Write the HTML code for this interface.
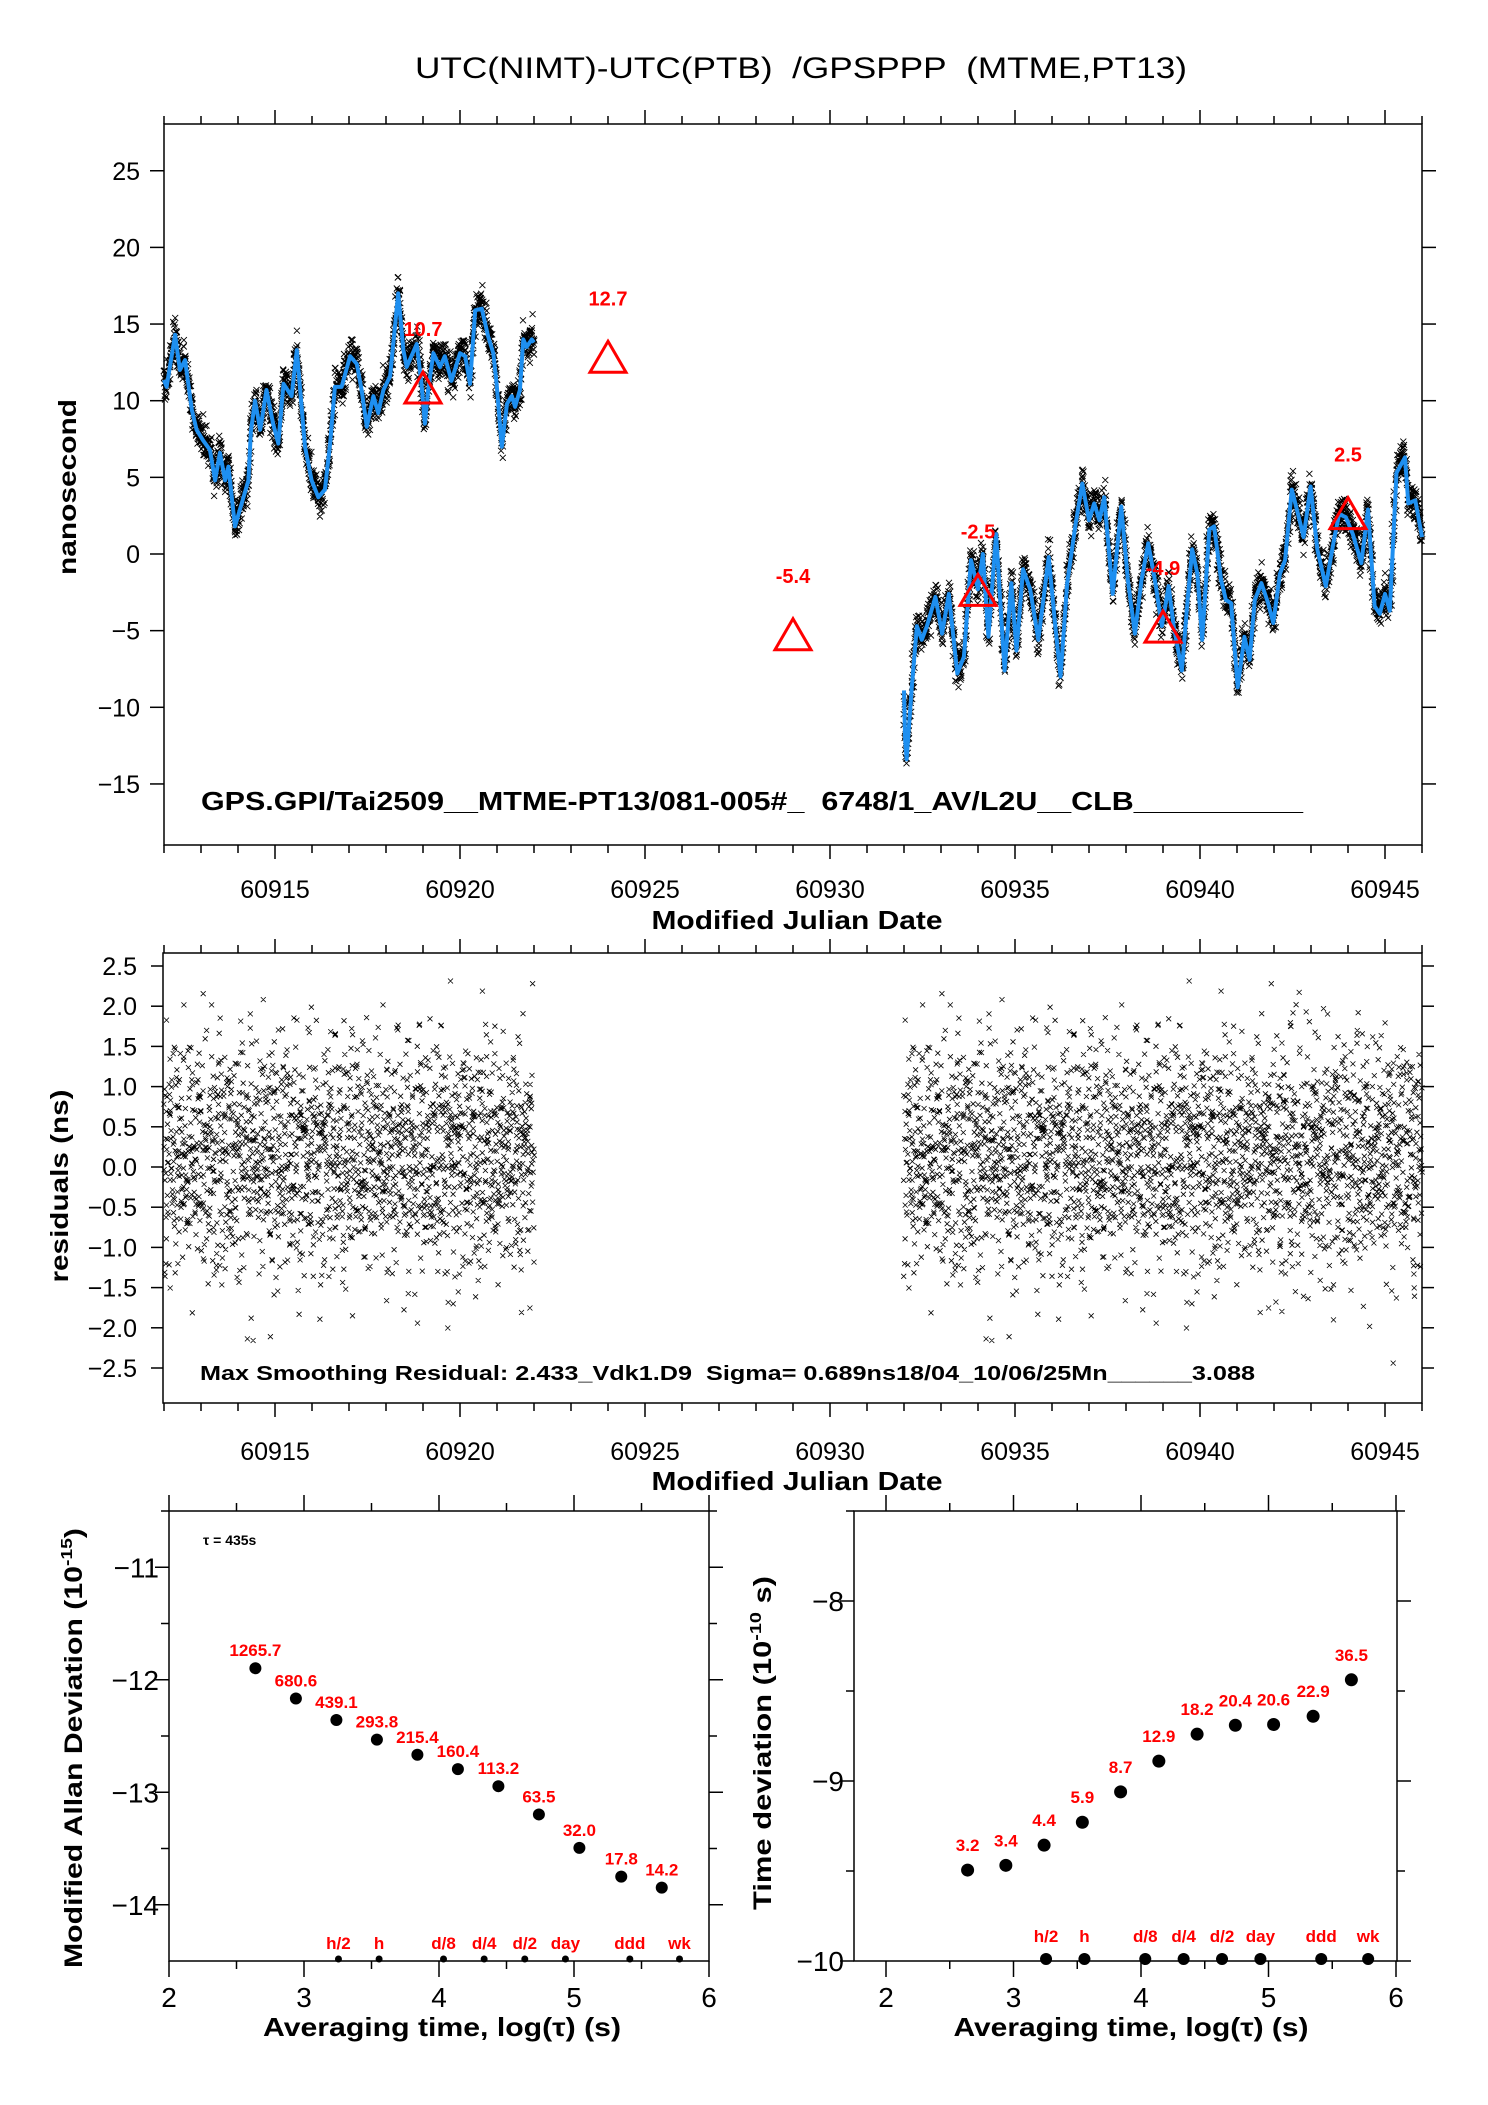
<!DOCTYPE html>
<html><head><meta charset="utf-8">
<style>
html,body{margin:0;padding:0;background:#fff;}
svg{display:block;font-family:"Liberation Sans",Arial,sans-serif;}
text{white-space:pre;}
</style></head>
<body>
<svg id="fig" width="1488" height="2105" viewBox="0 0 1488 2105" xmlns="http://www.w3.org/2000/svg">
<rect x="0" y="0" width="1488" height="2105" fill="#fff"/>
<text x="801" y="78" font-size="30" text-anchor="middle" textLength="772" lengthAdjust="spacingAndGlyphs">UTC(NIMT)-UTC(PTB)&#160; /GPSPPP&#160; (MTME,PT13)</text>

<g id="top"></g>
<g id="mid"></g>
<g id="bl"></g>
<g id="br"></g>

<text transform="translate(76,487) rotate(-90)" font-size="25" font-weight="bold" text-anchor="middle" textLength="176" lengthAdjust="spacingAndGlyphs">nanosecond</text>
<text x="797" y="929" font-size="26" font-weight="bold" text-anchor="middle" textLength="291" lengthAdjust="spacingAndGlyphs">Modified Julian Date</text>
<text x="201" y="810" font-size="26" font-weight="bold" textLength="1102" lengthAdjust="spacingAndGlyphs">GPS.GPI/Tai2509__MTME-PT13/081-005#_&#160; 6748/1_AV/L2U__CLB__________</text>

<text transform="translate(68,1186) rotate(-90)" font-size="25" font-weight="bold" text-anchor="middle" textLength="193" lengthAdjust="spacingAndGlyphs">residuals (ns)</text>
<text x="797" y="1490" font-size="26" font-weight="bold" text-anchor="middle" textLength="291" lengthAdjust="spacingAndGlyphs">Modified Julian Date</text>
<text x="200" y="1380" font-size="20" font-weight="bold" textLength="1055" lengthAdjust="spacingAndGlyphs">Max Smoothing Residual: 2.433_Vdk1.D9&#160; Sigma= 0.689ns18/04_10/06/25Mn______3.088</text>

<text transform="translate(82,1748) rotate(-90)" font-size="25" font-weight="bold" text-anchor="middle" textLength="440" lengthAdjust="spacingAndGlyphs">Modified Allan Deviation (10<tspan font-size="16" dy="-10">-15</tspan><tspan dy="10">)</tspan></text>
<text x="442" y="2036" font-size="26" font-weight="bold" text-anchor="middle" textLength="358" lengthAdjust="spacingAndGlyphs">Averaging time, log(τ) (s)</text>
<text x="203" y="1545" font-size="14" font-weight="bold">τ = 435s</text>

<text transform="translate(771,1743) rotate(-90)" font-size="25" font-weight="bold" text-anchor="middle" textLength="334" lengthAdjust="spacingAndGlyphs">Time deviation (10<tspan font-size="16" dy="-10">-10</tspan><tspan dy="10"> s)</tspan></text>
<text x="1131" y="2036" font-size="26" font-weight="bold" text-anchor="middle" textLength="355" lengthAdjust="spacingAndGlyphs">Averaging time, log(τ) (s)</text>
</svg>

<script>
// ---------- data ----------
const smoothDays1 = [0,0.07,0.3,0.43,0.57,0.75,0.88,1.06,1.24,1.38,1.51,1.65,1.74,1.92,2.1,2.28,2.35,2.46,2.6,2.77,2.95,3.09,3.23,3.45,3.59,3.72,3.81,3.99,4.17,4.35,4.49,4.62,4.8,5.03,5.21,5.34,5.48,5.66,5.79,5.93,6.11,6.33,6.47,6.56,6.83,6.96,7.05,7.14,7.28,7.46,7.59,7.77,8.0,8.14,8.27,8.41,8.59,8.76,8.9,8.99,9.13,9.27,9.4,9.49,9.62,9.71,9.8,9.94,10.0];
const smoothVals1 = [11.35,10.9,14.3,12.0,12.65,9.4,8.1,7.4,6.8,4.8,6.6,4.8,5.7,1.8,3.3,4.8,8.0,10.0,8.1,10.7,8.5,7.2,11.1,10.3,13.3,9.6,7.0,4.8,3.7,4.2,7.2,10.9,10.9,12.9,12.4,10.7,8.3,10.3,9.2,10.7,11.6,17.0,13.3,12.2,13.7,11.1,8.5,10.7,13.1,12.2,12.9,11.3,13.1,12.9,11.1,15.9,16.0,14.2,13.1,11.1,7.0,9.8,10.3,9.6,10.7,14.0,13.5,14.0,13.8];
const smoothDays2 = [20.0,20.03,20.07,20.21,20.35,20.48,20.62,20.85,21.03,21.21,21.44,21.62,21.81,22.0,22.13,22.28,22.49,22.72,22.9,23.04,23.22,23.41,23.63,23.91,24.09,24.23,24.41,24.64,24.82,25.0,25.14,25.28,25.41,25.64,25.87,26.05,26.24,26.42,26.6,26.78,26.97,27.15,27.29,27.51,27.65,27.79,27.93,28.06,28.25,28.38,28.57,28.7,28.84,29.02,29.2,29.34,29.48,29.66,29.84,29.98,30.16,30.3,30.48,30.62,30.8,30.99,31.17,31.4,31.62,31.76,31.94,32.13,32.36,32.54,32.72,32.86,33.0,33.13,33.31,33.54,33.63,33.82,34.0];
const smoothVals2 = [-8.9,-12.1,-13.4,-8.7,-4.7,-5.6,-4.7,-2.8,-5.2,-2.6,-7.8,-6.7,-0.4,-2.3,0.0,-5.4,1.3,-7.6,-1.9,-6.3,-1.0,-2.3,-5.6,-0.2,-4.7,-8.0,-1.9,2.0,4.6,2.2,3.3,2.2,3.7,-2.6,3.1,-1.7,-5.2,-1.7,0.7,-1.7,-4.7,-2.1,-4.7,-7.6,-3.4,0.3,-1.3,-5.6,1.6,1.8,-1.7,-3.0,-3.2,-8.7,-5.4,-6.9,-3.0,-1.9,-3.2,-4.5,-1.3,-0.4,4.2,2.9,1.1,4.4,0.3,-2.1,0.9,2.6,2.4,1.3,-0.6,2.9,-3.4,-3.9,-2.6,-3.7,5.3,6.3,3.3,3.5,1.1];
const residuals = [0.42,-0.81,0.13,1.05,-0.37,0.66,-1.22,0.08,-0.55,0.91,0.27,-0.14,-1.48,0.73,0.35,-0.62,1.31,-0.29,0.02,-0.95,0.58,-0.41,0.84,-0.18,1.62,-0.73,0.19,-1.07,0.47,-0.06,0.96,-0.52,-1.71,0.31,0.64,-0.24,1.18,-0.88,0.11,-0.33,0.77,-1.36,0.52,0.05,-0.68,1.44,-0.15,0.38,-1.02,0.23,0.89,-0.47,-0.09,1.09,-0.61,0.29,-1.93,0.71,0.16,-0.39,1.27,-0.79,0.44,-0.21,0.03,-1.16,0.93,0.55,-0.58,1.83,-0.32,0.17,-0.86,0.61,-1.29,0.36,0.08,-0.44,1.12,-0.69,0.26,-0.12,0.82,-1.58,0.49,0.68,-0.27,-0.97,1.37,0.12,-0.53,0.39,-0.04,1.01,-1.11,0.57,-0.35,0.21,-0.76,1.53,-0.19,0.33,-1.41,0.79,0.06,-0.63,1.21,-0.26,0.45,-0.91,2.05,-0.45,0.14,-1.25,0.62,-0.07,0.98,-0.56,-2.02,0.25];
const calMJD = [60919,60924,60929,60934,60939,60944];
const calVals = [10.7,12.7,-5.4,-2.5,-4.9,2.5];
const logTau = [2.64,2.94,3.24,3.54,3.84,4.14,4.44,4.74,5.04,5.35,5.65];
const mdevVals = [1265.7,680.6,439.1,293.8,215.4,160.4,113.2,63.5,32.0,17.8,14.2];
const tdevVals = [3.2,3.4,4.4,5.9,8.7,12.9,18.2,20.4,20.6,22.9,36.5];
const markLabels = ["h/2","h","d/8","d/4","d/2","day","ddd","wk"];
const markSeconds = [1800,3600,10800,21600,43200,86400,259200,604800];
const topYTicks = [25,20,15,10,5,0,-5,-10,-15];
const mjdTicks = [60915,60920,60925,60930,60935,60940,60945];
const midYTicks = [2.5,2.0,1.5,1.0,0.5,0.0,-0.5,-1.0,-1.5,-2.0,-2.5];
const mdevYTicks = [-11,-12,-13,-14];
const tdevYTicks = [-8,-9,-10];
const logTicks = [2,3,4,5,6];

// ---------- helpers ----------
const NS='http://www.w3.org/2000/svg';
function mk(tag, attrs, parent){const e=document.createElementNS(NS,tag);for(const k in attrs)e.setAttribute(k,attrs[k]);parent.appendChild(e);return e;}
function line(p,x1,y1,x2,y2,w){return mk('line',{x1,y1,x2,y2,stroke:'#000','stroke-width':w||1.5},p);}
function txt(p,x,y,s,size,anchor,extra){const t=mk('text',Object.assign({x,y,'font-size':size,'text-anchor':anchor||'middle'},extra||{}),p);t.textContent=s;return t;}
const minus = v => (v<0?'\u2212':'')+Math.abs(v);
function interp(ds,vs,d){if(d<=ds[0])return vs[0];for(let i=1;i<ds.length;i++){if(d<=ds[i]){const f=(d-ds[i-1])/(ds[i]-ds[i-1]);return vs[i-1]+f*(vs[i]-vs[i-1]);}}return vs[vs.length-1];}
// residual for sample i: mix of three lookups with coprime periods
function resAt(i){const n=residuals.length;
  return 0.62*residuals[(i*37)%n] + 0.55*residuals[(i*7+3)%(n-1)] + 0.4*residuals[(i*13+11)%(n-7)];}
function jitAt(i){const n=residuals.length;return residuals[(i*29+17)%(n-3)]*0.8;}

// ---------- top panel ----------
const gTop=document.getElementById('top');
const xT = mjd => 164 + (mjd-60912)*37;
const yT = v => 554 - v*15.33;
const TL=164,TR=1422,TT=124,TB=845;
const frameT=mk('rect',{x:TL,y:TT,width:TR-TL,height:TB-TT,fill:'none',stroke:'#000','stroke-width':1.5},gTop);


function mjdAxis(g,L,R,T,B,xf,labY){
  for(let d=60912;d<=60946;d++){const x=xf(d);const major=(d%5===0);const len=major?14:8;
    line(g,x,B,x,B+len);line(g,x,T,x,T-len);}
  mjdTicks.forEach(m=>{const t=txt(g,xf(m),labY,String(m),25);
    
    });
}
mjdAxis(gTop,TL,TR,TT,TB,xT,898);
topYTicks.forEach(v=>{const y=yT(v);line(gTop,TL-14,y,TL,y);line(gTop,TR,y,TR+14,y);
  const t=txt(gTop,140,y+9,minus(v),25,'end');
  
  });
function scatterPath(ds,vs,x0,x1,step,xf,yf,off){let p='';let i=off;
  for(let d=x0;d<=x1;d+=step,i++){const r=resAt(i)*0.75;
    const x=xf(60912+d)+jitAt(i),y=yf(interp(ds,vs,d)+r);p+='M'+(x-3).toFixed(1)+' '+(y-3).toFixed(1)+'l6 6m0 -6l-6 6';}
  return p;}
const sc1=mk('path',{d:scatterPath(smoothDays1,smoothVals1,0,10,0.005,xT,yT,0),stroke:'#000','stroke-width':0.9,fill:'none'},gTop);


const sc2=mk('path',{d:scatterPath(smoothDays2,smoothVals2,20,34,0.005,xT,yT,7),stroke:'#000','stroke-width':0.9,fill:'none'},gTop);


function smoothPath(ds,vs){return ds.map((d,i)=>(i?'L':'M')+xT(60912+d).toFixed(1)+' '+yT(vs[i]).toFixed(1)).join('');}
const sm1=mk('path',{d:smoothPath(smoothDays1,smoothVals1),stroke:'#1e8ff0','stroke-width':4,fill:'none','stroke-linejoin':'round'},gTop);


const sm2=mk('path',{d:smoothPath(smoothDays2,smoothVals2),stroke:'#1e8ff0','stroke-width':4,fill:'none','stroke-linejoin':'round'},gTop);


calMJD.forEach((m,i)=>{const x=xT(m),y=yT(calVals[i]);
  const tri=mk('path',{d:`M${x} ${y-18}L${x+18} ${y+13}L${x-18} ${y+13}Z`,fill:'none',stroke:'#ff0000','stroke-width':3},gTop);
  
  
  const t=txt(gTop,x,y-54,calVals[i].toFixed(1),20,'middle',{fill:'#ff0000','font-weight':'bold'});
  
  });

// ---------- middle panel ----------
const gMid=document.getElementById('mid');
const ML=163,MR=1422,MT=953,MB=1403;
const yM = v => 1167 - v*80.4;
const frameM=mk('rect',{x:ML,y:MT,width:MR-ML,height:MB-MT,fill:'none',stroke:'#000','stroke-width':1.5},gMid);


mjdAxis(gMid,ML,MR,MT,MB,xT,1460);
midYTicks.forEach(v=>{const y=yM(v);line(gMid,ML-12,y,ML,y);line(gMid,MR,y,MR+12,y);
  const t=txt(gMid,137,y+9,(v<0?'\u2212':'')+Math.abs(v).toFixed(1),25,'end');
  
  });
function residPath(x0,x1,step,off){let p='';let i=off;
  for(let d=x0;d<=x1;d+=step,i++){const r=resAt(i);
    const x=xT(60912+d)+jitAt(i),y=yM(r);p+='M'+(x-2.5).toFixed(1)+' '+(y-2.5).toFixed(1)+'l5 5m0 -5l-5 5';}
  return p;}
const rs1=mk('path',{d:residPath(0,10,0.005,0),stroke:'#000','stroke-width':0.8,fill:'none'},gMid);


const rs2=mk('path',{d:residPath(20,34,0.005,7),stroke:'#000','stroke-width':0.8,fill:'none'},gMid);



// ---------- stability panels ----------
function stabPanel(g,L,R,T,B,xf,yf,yTicks,vals,toY,dotR,labOff,labSize,markR,labBase){
  const fr=mk('rect',{x:L,y:T,width:R-L,height:B-T,fill:'none',stroke:'#000','stroke-width':1.5},g);
  
  
  for(let l=2;l<=6;l+=0.5){const x=xf(l);const len=(l%1===0)?16:8;line(g,x,B,x,B+len);line(g,x,T,x,T-len);}
  logTicks.forEach(l=>{const t=txt(g,xf(l),2007,String(l),28);
    
    });
  const yMin=yTicks[yTicks.length-1];
  for(let v=yMin;v<=yTicks[0]+0.5;v+=0.5){const y=yf(v);if(y<T-1)continue;const len=(v%1===0)?14:8;line(g,L-len,y,L,y);line(g,R,y,R+len,y);}
  yTicks.forEach(v=>{const t=txt(g,L-10,yf(v)+10,minus(v),28,'end');
    
    });
  vals.forEach((val,i)=>{const x=xf(logTau[i]),y=yf(toY(val));
    const c=mk('circle',{cx:x,cy:y,r:dotR,fill:'#000'},g);
    
    
    const t=txt(g,x,y-labOff,val.toFixed(1),labSize,'middle',{fill:'#ff0000','font-weight':'bold'});
    
    });
  markSeconds.forEach((s,i)=>{const x=xf(Math.log10(s));
    const c=mk('circle',{cx:x,cy:B-2,r:markR,fill:'#000'},g);
    
    
    const t=txt(g,x,labBase,markLabels[i],labSize,'middle',{fill:'#ff0000','font-weight':'bold'});
    
    });
}
const xBL = l => 169 + (l-2)*135;
const yBL = v => 1961 - (v+14.5)*112.5;
stabPanel(document.getElementById('bl'),169,709,1511,1961,xBL,yBL,mdevYTicks,mdevVals,v=>Math.log10(v)-15,6,12,17,3.5,1949);
const xBR = l => 886 + (l-2)*127.5;
const yBR = v => 1961 - (v+10)*180;
stabPanel(document.getElementById('br'),854,1397,1511,1961,xBR,yBR,tdevYTicks,tdevVals,v=>Math.log10(v)-10,6.5,19,17,6,1942);
</script>
</body></html>
